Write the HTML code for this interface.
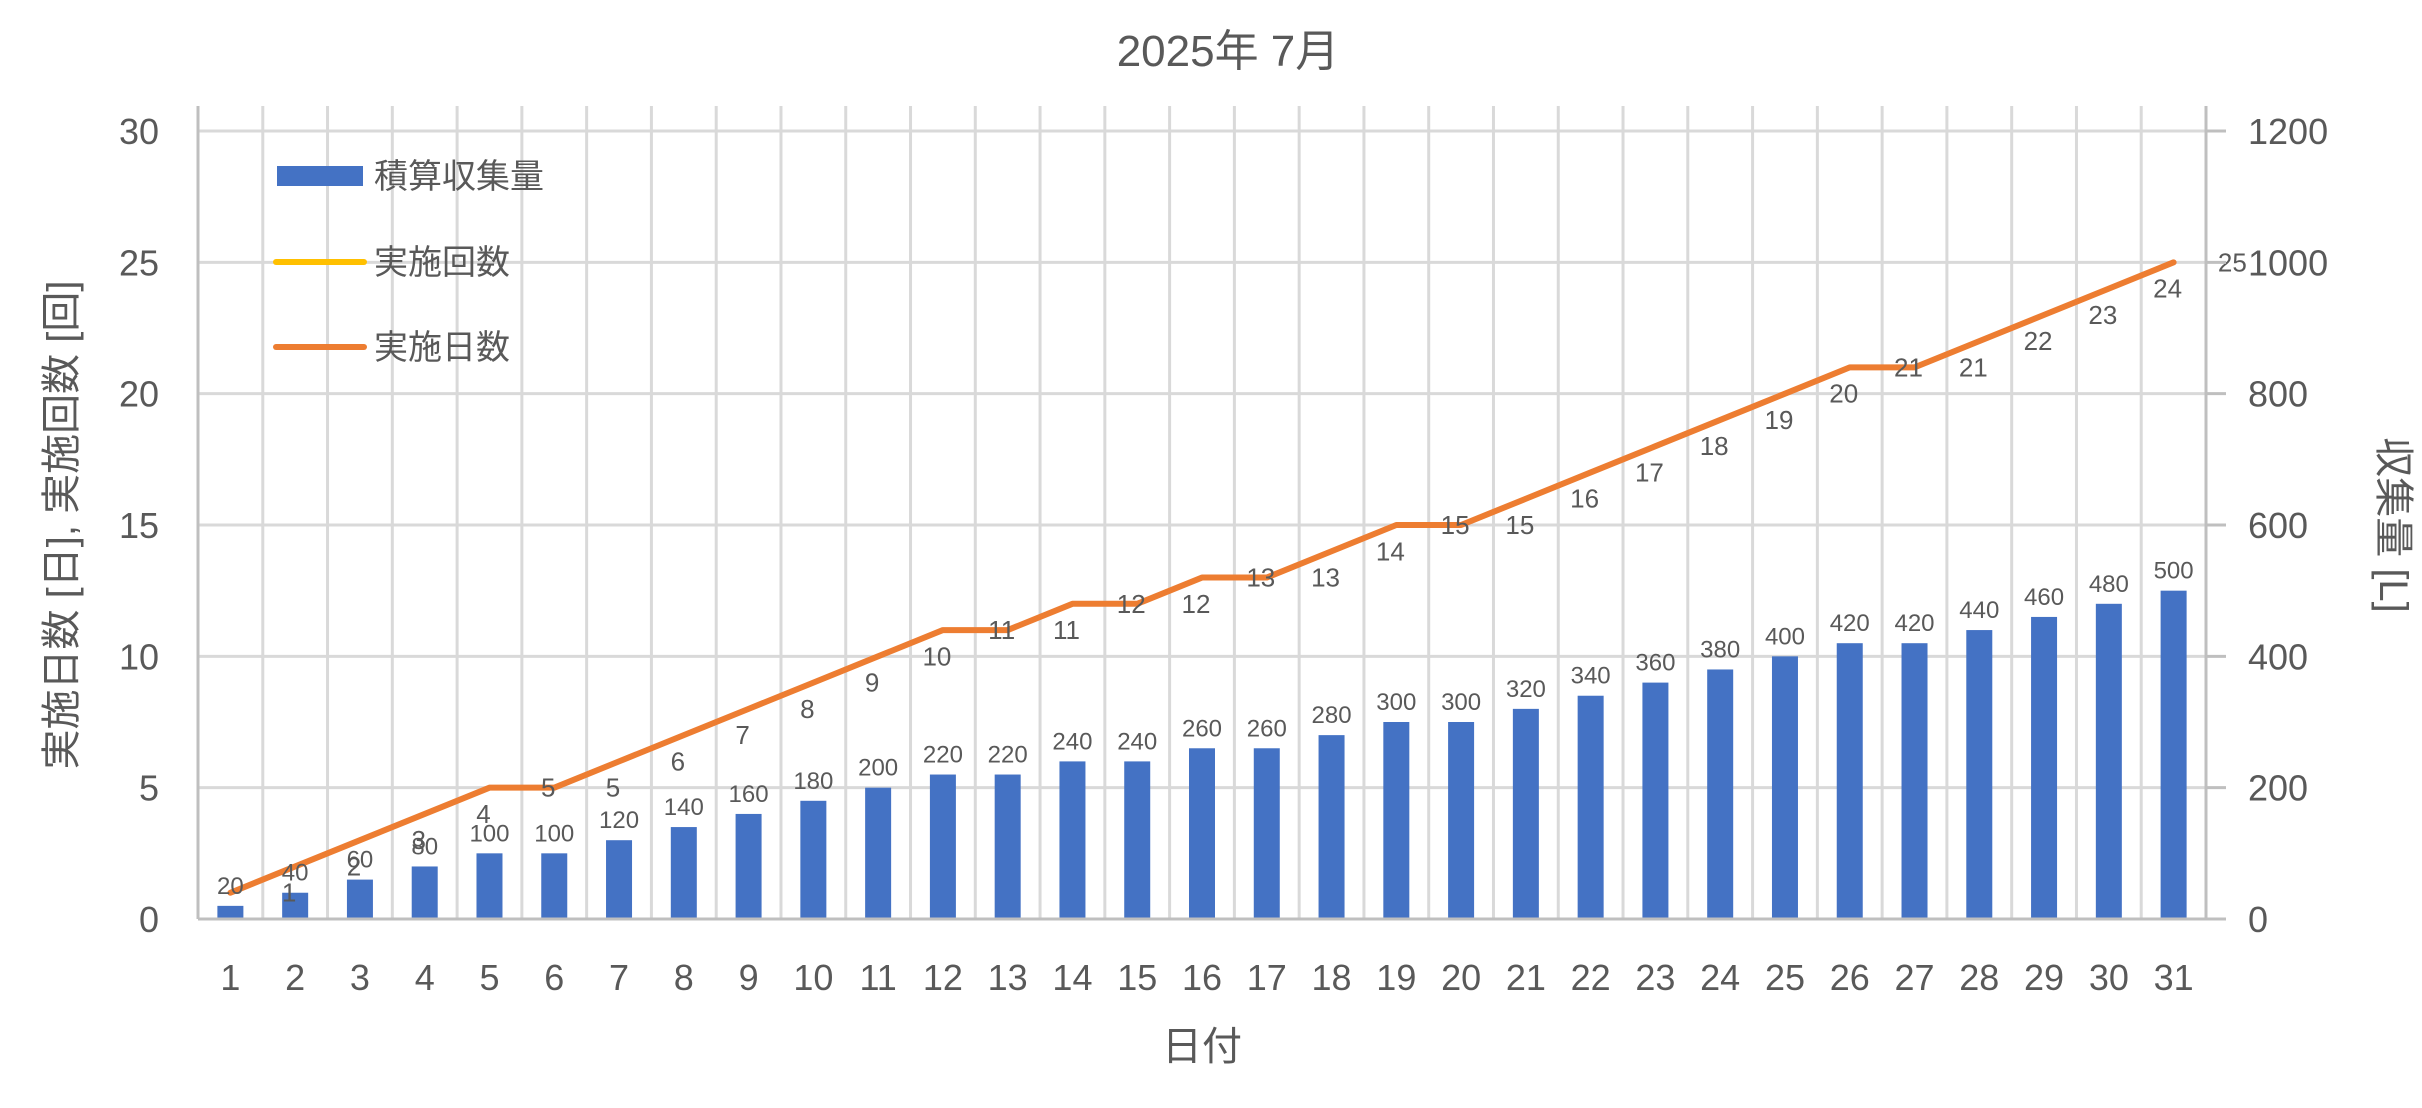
<!DOCTYPE html>
<html><head><meta charset="utf-8">
<style>
html,body{margin:0;padding:0;background:#fff;}
svg text{font-family:"Liberation Sans","Noto Sans CJK JP",sans-serif;fill:#595959;}
</style></head>
<body>
<svg id="chart" width="2422" height="1103" viewBox="0 0 2422 1103" xmlns="http://www.w3.org/2000/svg">
<text x="1228" y="66" font-size="44" text-anchor="middle">2025年 7月</text>
<g id="grid"></g>
<g id="bars"></g>
<g id="lines"></g>
<g id="labels"></g>
<g id="axes"></g>
<text transform="translate(75,525) rotate(-90)" font-size="40" text-anchor="middle">実施日数 [日], 実施回数 [回]</text>
<text transform="translate(2380,525) rotate(90)" font-size="40" text-anchor="middle">収集量 [L]</text>
<text x="1202" y="1060" font-size="40" text-anchor="middle">日付</text>
<g>
  <rect x="277" y="166" width="86" height="20" fill="#4472c4"/>
  <text x="374" y="188" font-size="34">積算収集量</text>
  <line x1="276" y1="262" x2="364" y2="262" stroke="#ffc000" stroke-width="6" stroke-linecap="round"/>
  <text x="374" y="274" font-size="34">実施回数</text>
  <line x1="276" y1="347" x2="364" y2="347" stroke="#ed7d31" stroke-width="6" stroke-linecap="round"/>
  <text x="374" y="359" font-size="34">実施日数</text>
</g>
</svg>
<script>
const days = ["1","2","3","4","5","6","7","8","9","10","11","12","13","14","15","16","17","18","19","20","21","22","23","24","25","26","27","28","29","30","31"];
const volume = [20,40,60,80,100,100,120,140,160,180,200,220,220,240,240,260,260,280,300,300,320,340,360,380,400,420,420,440,460,480,500];
const actDays = [1,2,3,4,5,5,6,7,8,9,10,11,11,12,12,13,13,14,15,15,16,17,18,19,20,21,21,22,23,24,25];
const actCount = [null,1,2,3,4,5,5,6,7,8,9,10,11,11,12,12,13,13,14,15,15,16,17,18,19,20,21,21,22,23,24,25];
const leftTicks = [0,5,10,15,20,25,30];
const rightTicks = [0,200,400,600,800,1000,1200];

const NS="http://www.w3.org/2000/svg";
const L=198,R=2206,T=131,B=919;
const n=days.length, step=(R-L)/n;
const xc=i=>L+step*(i+0.5);
const yl=v=>B-(v/30)*(B-T);
const yr=v=>B-(v/1200)*(B-T);
function mk(tag,attrs,parent,txt){const e=document.createElementNS(NS,tag);for(const k in attrs)e.setAttribute(k,attrs[k]);if(txt!==undefined)e.textContent=txt;parent.appendChild(e);return e;}
const grid=document.getElementById('grid'),bars=document.getElementById('bars'),lines=document.getElementById('lines'),labels=document.getElementById('labels'),axes=document.getElementById('axes');

leftTicks.forEach((v,k)=>{
  const g=mk('line',{x1:L,x2:R,y1:yl(v),y2:yl(v),stroke:'#d9d9d9','stroke-width':3},grid);
  
  
  const t=mk('text',{x:159,y:yl(v)+13,'font-size':36,'text-anchor':'end'},axes,String(v));
  
  
});
rightTicks.forEach(v=>{
  const tk=mk('line',{x1:R,x2:R+20,y1:yr(v),y2:yr(v),stroke:'#bfbfbf','stroke-width':3},axes);
  
  
  const t=mk('text',{x:2248,y:yr(v)+13,'font-size':36},axes,String(v));
  
  
});
for(let i=1;i<n;i++){
  const g=mk('line',{x1:L+step*i,x2:L+step*i,y1:T-25,y2:B,stroke:'#d9d9d9','stroke-width':3},grid);
  
  
}
days.forEach((d,i)=>{
  const t=mk('text',{x:xc(i),y:990,'font-size':36,'text-anchor':'middle'},axes,d);
  
  
});
const la=mk('line',{x1:L,x2:L,y1:T-25,y2:B,stroke:'#bfbfbf','stroke-width':3},axes);


const ra=mk('line',{x1:R,x2:R,y1:T-25,y2:B,stroke:'#bfbfbf','stroke-width':3},axes);


const xa=mk('line',{x1:L,x2:R,y1:B,y2:B,stroke:'#bfbfbf','stroke-width':3},axes);



const bw=26;
volume.forEach((v,i)=>{
  const b=mk('rect',{x:xc(i)-bw/2,y:yr(v),width:bw,height:B-yr(v),fill:'#4472c4'},bars);
  
  
  const t=mk('text',{x:xc(i),y:yr(v)-12,'font-size':24,'text-anchor':'middle'},labels,String(v));
  
  
});
const pts=actDays.map((v,i)=>xc(i)+','+yl(v)).join(' ');
const pl=mk('polyline',{points:pts,fill:'none',stroke:'#ed7d31','stroke-width':6,'stroke-linecap':'round','stroke-linejoin':'round'},lines);


actCount.forEach((v,i)=>{
  if(v===null)return;
  const t=mk('text',{x:xc(i)-6,y:yl(v)+9,'font-size':26,'text-anchor':'middle'},labels,String(v));
  
  
});
</script>
</body></html>
